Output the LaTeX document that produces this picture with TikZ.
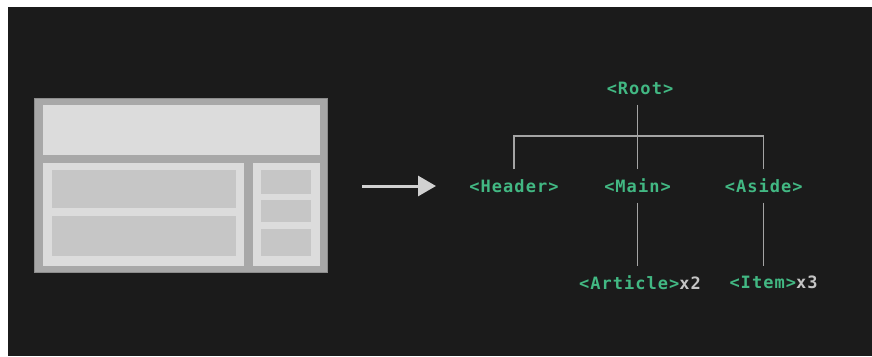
\documentclass[tikz,border=0pt]{standalone}
\usepackage{fontspec}
\usetikzlibrary{arrows.meta}
\newfontfamily\tagfont[LetterSpace=6]{DejaVu Sans Mono}
\definecolor{bgdark}{HTML}{1B1B1B}
\definecolor{vuegreen}{HTML}{42B883}
\definecolor{countgray}{HTML}{C4C4C4}
\definecolor{linegray}{HTML}{A4A4A4}
\definecolor{framegray}{HTML}{A8A8A8}
\definecolor{frameedge}{HTML}{8C8C8C}
\definecolor{panelgray}{HTML}{DCDCDC}
\definecolor{blockgray}{HTML}{C6C6C6}
\begin{document}
\begin{tikzpicture}[x=1pt,y=-1pt,
  tag/.style={font=\tagfont\bfseries\fontsize{17}{20}\selectfont, text=vuegreen,
    inner sep=0pt, minimum height=33pt},
  branch/.style={draw=linegray, line width=1.3pt}]
  \useasboundingbox (0,0) rectangle (872,356);
  \fill[white] (0,0) rectangle (872,356);
  \fill[bgdark] (8,7) rectangle (872,356);

  % page layout sketch
  \fill[framegray] (34.3,98.3) rectangle (327.3,272.7);
  \draw[frameedge, line width=0.8pt] (34.3,98.3) rectangle (327.3,272.7);
  \fill[panelgray] (42.7,105) rectangle (320.3,155.3);
  \fill[panelgray] (42.7,162.7) rectangle (244,266);
  \fill[panelgray] (252.7,162.7) rectangle (320.3,266);
  \fill[blockgray] (52.3,170.3) rectangle (236,208.3);
  \fill[blockgray] (52.3,216) rectangle (236,255.7);
  \fill[blockgray] (261,170.3) rectangle (310.7,193.7);
  \fill[blockgray] (261,200.3) rectangle (310.7,221.7);
  \fill[blockgray] (261,229) rectangle (310.7,255.7);

  \draw[draw=panelgray!95!black, line width=3pt,
    -{Triangle[length=18pt,width=20pt]}] (362,186) -- (436,186);

  % component tree
  \node[tag] (Root) at (640,88) {<Root>};
  \node[tag] (Header) at (514,186) {<Header>};
  \node[tag] (Main) at (637.5,186) {<Main>};
  \node[tag] (Aside) at (763.8,186) {<Aside>};
  \node[tag] (Article) at (640,282.5) {<Article>\textcolor{countgray}{x2}};
  \node[tag] (Item) at (773.5,282.5) {<Item>\textcolor{countgray}{x3}};
  \coordinate (bar) at (0,136);

  \draw[branch] (Main.north |- Root.south) -- (Main.north);
  \draw[branch] (Header.north) -- (Header.north |- bar) -- (Aside.north |- bar) -- (Aside.north);
  \draw[branch] (Main.south) -- (Main.south |- Article.north);
  \draw[branch] (Aside.south) -- (Aside.south |- Item.north);
\end{tikzpicture}
\end{document}
